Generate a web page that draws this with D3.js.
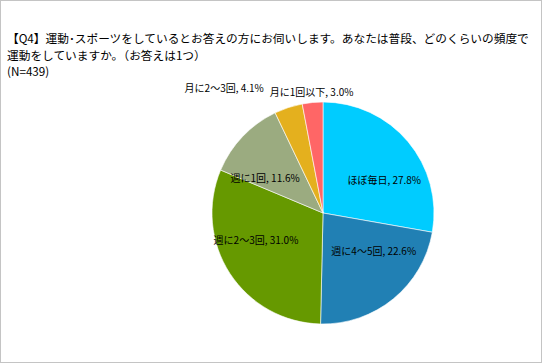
<!DOCTYPE html>
<html>
<head>
<meta charset="utf-8">
<script src="https://cdn.jsdelivr.net/npm/d3@7"></script>
<style>
  body { margin: 0; background: #fff; }
  svg text { font-family: "Noto Sans CJK JP", "Noto Sans", sans-serif; fill: #000; }
</style>
</head>
<body>
<div id="chart"></div>
<script>
// data
const categories = ["ほぼ毎日", "週に4～5回", "週に2～3回", "週に1回", "月に2～3回", "月に1回以下"]
const values = [27.8, 22.6, 31.0, 11.6, 4.1, 3.0]
const colors = ["#00ccff", "#2180b4", "#669900", "#9bab80", "#e4b01e", "#ff6666"]
const titleLines = [
    "【Q4】運動･スポーツをしているとお答えの方にお伺いします。あなたは普段、どのくらいの頻度で",
    "運動をしていますか。（お答えは1つ）",
    "(N=439)"
]

const width = 542, height = 363
const cx = 323, cy = 213, radius = 111

const svg = d3.select("#chart")
    .append("svg")
    .attr("width", width)
    .attr("height", height)

// frame
svg.append("rect")
    .attr("x", 0.5).attr("y", 0.5)
    .attr("width", width - 1).attr("height", height - 1)
    .attr("fill", "#fff")
    .attr("stroke", "#c4c4c4")

// title
svg.append("g").selectAll("text")
    .data(titleLines).enter()
    .append("text")
    .attr("x", 7)
    .attr("y", (d, i) => 43 + i * 16.5)
    .style("font-size", "11.7px")
    .text(d => d)

const pie = d3.pie().sort(null).value(d => d.v)
const arcs = pie(categories.map((c, i) => ({c, v: values[i], col: colors[i]})))

const arc = d3.arc().innerRadius(0).outerRadius(radius)
const inArc = d3.arc().innerRadius(radius * 0.6).outerRadius(radius * 0.6)
const outArc = d3.arc().innerRadius(radius + 10).outerRadius(radius + 10)

const g = svg.append("g").attr("transform", `translate(${cx},${cy})`)

g.selectAll("path")
    .data(arcs).enter()
    .append("path")
    .attr("d", arc)
    .attr("fill", d => d.data.col)
    .attr("stroke", "#fff")
    .attr("stroke-width", 0.6)

const fmt = d3.format(".1f")
const small = d => d.data.v < 5

// inside labels, spread sideways a bit like excel's best fit
g.selectAll("text.in")
    .data(arcs.filter(d => !small(d))).enter()
    .append("text")
    .attr("class", "in")
    .attr("transform", d => {
        const [x, y] = inArc.centroid(d)
        return `translate(${x * 1.2},${y * 0.75})`
    })
    .attr("text-anchor", "middle")
    .attr("dy", "0.35em")
    .style("font-size", "10px")
    .text(d => `${d.data.c}, ${fmt(d.data.v)}%`)

// outside labels, pushed apart if they overlap
const outs = arcs.filter(small).map(d => {
    const [x, y] = outArc.centroid(d)
    return {d, x, y, w: 0}
})
const outText = g.selectAll("text.out")
    .data(outs).enter()
    .append("text")
    .attr("class", "out")
    .attr("text-anchor", "middle")
    .attr("dy", "0.35em")
    .style("font-size", "10px")
    .text(o => `${o.d.data.c}, ${fmt(o.d.data.v)}%`)
outText.each(function(o){ o.w = this.getComputedTextLength() })
outs.sort((a, b) => b.x - a.x)
for (let i = 1; i < outs.length; i++) {
    const prev = outs[i - 1], cur = outs[i]
    const gap = (prev.x - prev.w / 2) - (cur.x + cur.w / 2) - 6
    if (gap < 0) { cur.x += gap; cur.y -= 10 }
}
outText.attr("x", o => o.x).attr("y", o => o.y)
</script>
</body>
</html>
